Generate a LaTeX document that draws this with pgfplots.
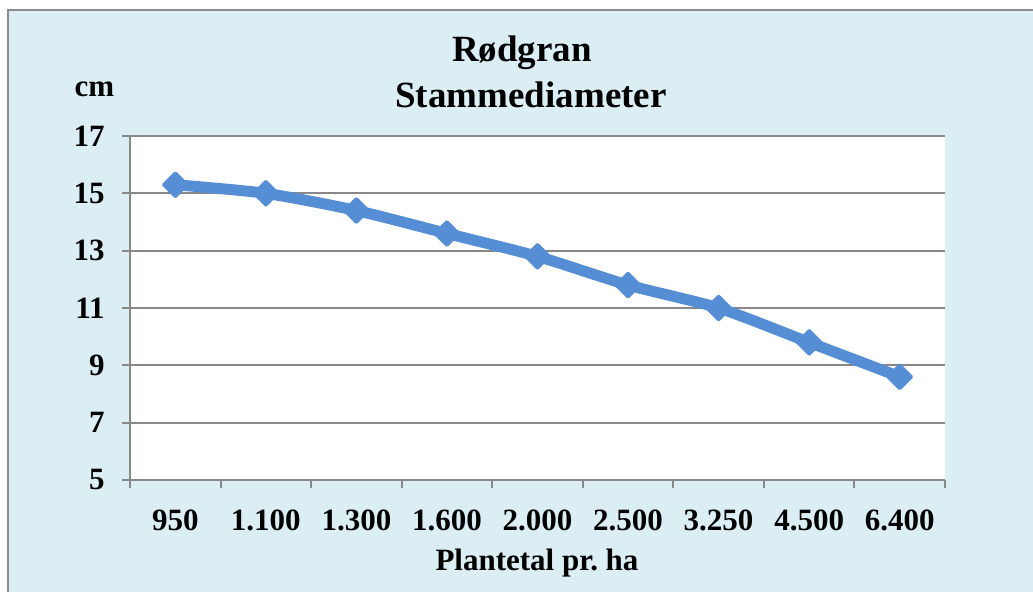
\documentclass[border=0pt]{standalone}
\usepackage{pgfplots}
\pgfplotsset{compat=1.18}
\usepackage{fontspec}
\setmainfont{Liberation Serif}
\definecolor{bgblue}{HTML}{DBEEF4}
\definecolor{framegray}{HTML}{8C8C8C}
\definecolor{gridgray}{HTML}{888888}
\definecolor{lineblue}{HTML}{558ED5}

\begin{document}
\begin{tikzpicture}
\useasboundingbox (-65pt,-56pt) rectangle (451.5pt,240pt);
\clip (-65pt,-56pt) rectangle (451.5pt,240pt);
\fill[white] (-65pt,-56pt) rectangle (451.5pt,240pt);
\filldraw[fill=bgblue, draw=framegray, line width=1pt] (-61pt,-70pt) rectangle (470pt,235pt);
\begin{axis}[
  at={(0pt,0pt)}, anchor=south west,
  scale only axis,
  width=407.5pt, height=172pt,
  xmin=-0.5, xmax=8.5,
  ymin=5, ymax=17,
  ytick={5,7,...,17},
  xtick={0,...,8},
  xticklabels={950,1.100,1.300,1.600,2.000,2.500,3.250,4.500,6.400},
  minor xtick={-0.5,0.5,...,8.5},
  major x tick style={draw=none},
  tick align=outside,
  major tick length=4pt,
  minor tick length=4pt,
  tick style={gridgray, line width=1pt},
  axis x line*=bottom,
  axis y line*=left,
  axis line style={gridgray, line width=1pt, -},
  axis background/.style={fill=white},
  ymajorgrids,
  grid style={gridgray, line width=1pt},
  ticklabel style={font=\bfseries\fontsize{15.5}{18}\selectfont},
  /pgf/number format/assume math mode=true,
  xticklabel style={anchor=base, yshift=-21.5pt},
  yticklabel style={anchor=east, inner sep=0pt},
  yticklabel shift=8.5pt,
  clip=false,
]
\addplot[lineblue, line width=5.5pt, smooth, tension=0.4,
  mark=square*, mark size=4.2pt,
  mark options={solid, rotate=45, fill=lineblue, line width=1.5pt, line join=round}]
  coordinates {(0,15.3) (1,15.0) (2,14.4) (3,13.6) (4,12.8) (5,11.8) (6,11.0) (7,9.8) (8,8.6)};
\end{axis}
\node[anchor=base, font=\bfseries\fontsize{18.5}{22}\selectfont] at (196pt,209pt) {Rødgran};
\node[anchor=base, font=\bfseries\fontsize{18.5}{22}\selectfont] at (200.5pt,186pt) {Stammediameter};
\node[anchor=base, font=\bfseries\fontsize{15.5}{18}\selectfont] at (-17.75pt,191.5pt) {cm};
\node[anchor=base, font=\bfseries\fontsize{15.5}{18}\selectfont] at (203.5pt,-45.5pt) {Plantetal pr.\ ha};
\end{tikzpicture}
\end{document}
